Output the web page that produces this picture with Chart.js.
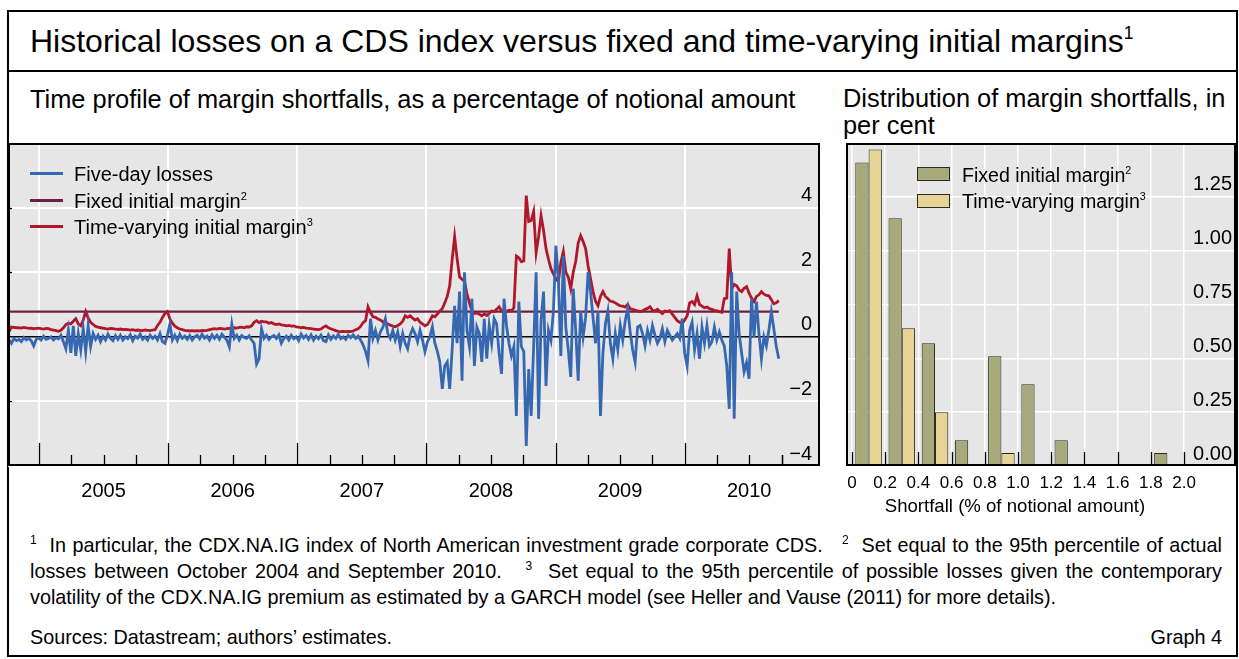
<!DOCTYPE html>
<html><head><meta charset="utf-8"><title>Graph 4</title>
<script src="https://cdn.jsdelivr.net/npm/chart.js@4.4.1/dist/chart.umd.min.js"></script>
<style>
html,body{margin:0;padding:0;background:#fff}
body{position:relative;width:1239px;height:659px;overflow:hidden;font-family:"Liberation Sans",Arial,Helvetica,sans-serif;color:#000}
.a{position:absolute;white-space:nowrap}
.sup{font-size:0.55em;position:relative;top:-0.75em}
.fn{position:absolute;left:30px;width:1192px;font-size:19.8px;line-height:26px;white-space:nowrap}
.just{text-align:justify;text-align-last:justify;white-space:normal}
.fs{font-size:12px;position:relative;top:-8px}
canvas{display:block}
</style></head><body>
<div class="a" style="left:7px;top:10px;width:1227px;height:643px;border:2px solid #000"></div>
<div class="a" style="left:7px;top:70px;width:1231px;height:2px;background:#000"></div>
<div class="a" style="left:30px;top:21px;font-size:32px;line-height:40px">Historical losses on a CDS index versus fixed and time-varying initial margins<span class="sup">1</span></div>
<div class="a" style="left:30px;top:85px;font-size:25.4px;line-height:28px">Time profile of margin shortfalls, as a percentage of notional amount</div>
<div class="a" style="left:843px;top:85px;font-size:25.4px;line-height:27px">Distribution of margin shortfalls, in<br>per cent</div>

<div class="a" style="left:8px;top:143px;width:812px;height:367px"><canvas id="c1" width="812" height="367"></canvas></div>
<div class="a" style="left:846px;top:143px;width:390px;height:353px"><canvas id="c2" width="390" height="353"></canvas></div>

<!-- left legend -->
<div class="a" style="left:30px;top:172px;width:33px;height:3px;background:#3668b2"></div>
<div class="a" style="left:74px;top:162px;font-size:20px;line-height:24px">Five-day losses</div>
<div class="a" style="left:30px;top:199px;width:33px;height:3px;background:#6d2046"></div>
<div class="a" style="left:74px;top:189px;font-size:20px;line-height:24px">Fixed initial margin<span class="sup">2</span></div>
<div class="a" style="left:30px;top:225px;width:33px;height:3px;background:#b0172b"></div>
<div class="a" style="left:74px;top:215px;font-size:20px;line-height:24px">Time-varying initial margin<span class="sup">3</span></div>

<!-- right legend -->
<div class="a" style="left:917px;top:167px;width:31px;height:12px;background:#a7a87b;border:1px solid #2b2b22"></div>
<div class="a" style="left:962px;top:163px;font-size:19.6px;line-height:24px">Fixed initial margin<span class="sup">2</span></div>
<div class="a" style="left:917px;top:194px;width:31px;height:12px;background:#e8d396;border:1px solid #2b2b22"></div>
<div class="a" style="left:962px;top:189px;font-size:19.6px;line-height:24px">Time-varying margin<span class="sup">3</span></div>
<div class="a" style="left:865px;top:494px;width:300px;text-align:center;font-size:18.6px;line-height:24px">Shortfall (% of notional amount)</div>

<div class="fn just" style="top:532px"><span class="fs">1</span>&nbsp; In particular, the CDX.NA.IG index of North American investment grade corporate CDS. &nbsp; <span class="fs">2</span>&nbsp; Set equal to the 95th percentile of actual</div>
<div class="fn just" style="top:558px">losses between October 2004 and September 2010. &nbsp; <span class="fs">3</span>&nbsp; Set equal to the 95th percentile of possible losses given the contemporary</div>
<div class="fn" style="top:584px">volatility of the CDX.NA.IG premium as estimated by a GARCH model (see Heller and Vause (2011) for more details).</div>
<div class="fn" style="top:624px">Sources: Datastream; authors’ estimates.</div>
<div class="a" style="right:17px;top:624px;font-size:19.8px;line-height:26px">Graph 4</div>

<script>
// ---------------- data ----------------
const firstWeek = "2004-10-08";           // first weekly observation
const yearLabels = [2005, 2006, 2007, 2008, 2009, 2010];
const fixedMargin = 0.78;                  // fixed initial margin, % of notional
const fiveDayLosses = [
 -0.10,-0.20,-0.05,-0.12,-0.08,-0.15,-0.02,-0.10,
 -0.05,-0.12,-0.28,-0.08,-0.04,-0.10,0.02,-0.08,
 -0.05,0.00,-0.10,-0.03,-0.06,0.05,-0.15,-0.37,
 0.20,-0.50,0.34,-0.59,0.10,-0.40,0.25,-0.46,
 0.34,-0.30,0.10,-0.08,0.05,-0.15,0.02,-0.10,
 0.08,-0.05,-0.12,0.04,-0.08,0.05,-0.10,0.00,
 -0.06,0.06,-0.12,0.02,-0.04,0.08,-0.08,0.00,
 -0.10,0.05,-0.05,0.02,-0.10,0.10,-0.15,-0.20,
 0.05,0.40,-0.10,0.05,-0.12,0.08,-0.05,0.02,
 -0.08,0.04,-0.10,0.00,0.05,-0.06,0.08,-0.04,
 0.02,-0.10,0.06,-0.05,0.05,-0.08,0.08,-0.02,
 -0.10,-0.31,0.40,-0.05,0.05,-0.10,0.04,-0.02,
 -0.05,0.03,-0.10,-0.20,-0.84,-0.68,0.25,-0.05,
 0.05,-0.08,0.00,0.04,-0.05,0.06,-0.20,-0.05,
 0.02,-0.10,0.05,-0.06,0.00,-0.12,0.08,-0.04,
 0.04,-0.08,0.06,-0.10,0.02,-0.06,0.05,-0.12,
 -0.15,0.06,-0.08,0.03,-0.05,0.08,-0.06,0.00,
 -0.08,0.05,-0.03,0.06,-0.05,0.02,-0.10,-0.25,
 -0.45,-0.74,0.56,-0.05,0.20,-0.10,0.15,0.30,
 0.56,0.10,-0.05,0.20,-0.10,0.15,-0.30,0.10,
 -0.20,-0.37,0.05,0.25,0.10,-0.15,0.20,-0.10,
 -0.46,-0.15,0.00,0.31,-0.20,-0.45,-0.78,-1.61,
 -0.90,-0.78,-1.61,-0.40,0.96,-0.20,1.40,-1.36,
 2.00,0.20,-0.30,1.18,-0.90,0.30,0.10,-0.78,
 0.56,-0.68,0.35,-0.20,0.56,0.40,-0.50,-1.15,
 1.18,0.35,-0.20,-0.59,-0.30,-2.45,1.09,-0.30,
 -0.46,-3.38,-1.00,-2.45,-0.30,2.00,-2.54,0.50,
 1.40,-1.52,0.20,-0.10,0.80,2.82,1.80,-0.59,
 2.50,0.30,-0.40,-1.24,1.49,0.20,-1.36,0.80,
 0.00,0.60,2.00,1.40,0.60,-0.20,0.80,-2.45,
 -0.50,0.40,0.80,-0.20,-0.68,0.10,-0.40,0.35,
 -0.10,0.50,0.87,0.15,-0.40,-0.78,0.30,0.35,
 0.10,-0.28,0.20,-0.10,0.35,0.05,-0.20,-0.05,
 0.25,-0.15,0.20,0.05,-0.10,0.00,0.10,-0.05,
 0.56,-0.50,-0.90,0.20,0.45,-0.40,0.10,-0.68,
 0.30,-0.20,0.35,-0.28,-0.15,0.30,-0.10,0.15,
 -0.10,-0.28,-0.90,-2.23,2.00,-2.54,1.40,0.10,
 -0.50,-1.08,-0.80,-1.30,1.18,0.00,1.09,0.10,
 -0.68,0.00,-0.28,0.20,0.78,0.25,-0.30,-0.68
];
const timeVaryingMargin = [
 0.16,0.30,0.29,0.28,0.28,0.27,0.29,0.28,
 0.26,0.27,0.25,0.26,0.27,0.25,0.24,0.26,
 0.25,0.22,0.21,0.19,0.17,0.20,0.28,0.38,
 0.42,0.40,0.48,0.56,0.40,0.34,0.52,0.78,
 0.58,0.45,0.38,0.32,0.30,0.28,0.27,0.25,
 0.24,0.26,0.25,0.24,0.23,0.24,0.22,0.23,
 0.22,0.21,0.22,0.20,0.21,0.20,0.19,0.21,
 0.20,0.19,0.21,0.22,0.35,0.45,0.60,0.72,
 0.78,0.55,0.42,0.33,0.28,0.24,0.22,0.20,
 0.19,0.18,0.19,0.18,0.19,0.18,0.20,0.19,
 0.20,0.22,0.24,0.25,0.24,0.26,0.25,0.24,
 0.25,0.26,0.27,0.28,0.27,0.29,0.30,0.28,
 0.31,0.30,0.34,0.45,0.50,0.44,0.48,0.46,
 0.46,0.42,0.44,0.40,0.38,0.40,0.37,0.36,
 0.34,0.35,0.33,0.34,0.31,0.30,0.28,0.29,
 0.27,0.26,0.25,0.24,0.23,0.22,0.24,0.30,
 0.34,0.28,0.25,0.22,0.19,0.17,0.16,0.17,
 0.16,0.17,0.16,0.18,0.22,0.25,0.32,0.44,
 0.50,0.93,0.75,0.62,0.60,0.55,0.52,0.46,
 0.44,0.40,0.36,0.33,0.31,0.35,0.40,0.48,
 0.65,0.60,0.65,0.58,0.52,0.56,0.45,0.40,
 0.34,0.38,0.50,0.65,0.62,0.70,0.80,0.87,
 1.05,1.25,1.58,2.40,3.10,2.42,1.85,1.78,
 1.71,1.33,1.05,0.80,0.72,0.74,0.70,0.65,
 0.71,0.66,0.72,0.80,0.78,0.85,0.93,0.80,
 0.75,0.78,0.82,0.80,0.90,2.50,2.45,2.33,
 2.35,4.37,3.57,3.60,3.88,2.60,3.10,3.75,
 3.30,2.73,2.40,2.11,1.95,1.80,1.71,2.30,
 2.64,2.00,1.85,1.49,2.00,2.33,2.90,3.13,
 2.95,2.73,2.20,1.80,1.40,1.10,0.96,1.25,
 1.40,1.25,1.18,1.10,1.09,1.05,1.00,0.96,
 0.95,0.92,1.00,0.87,0.85,0.83,0.80,0.78,
 0.80,0.85,0.88,0.93,0.82,0.80,0.85,0.78,
 0.72,0.80,0.78,0.81,0.70,0.60,0.50,0.45,
 0.40,0.52,0.65,1.05,1.09,1.00,1.27,1.00,
 0.95,0.90,0.92,0.87,0.85,0.82,0.80,0.78,
 0.76,1.18,1.20,2.73,1.49,1.62,1.58,1.45,
 1.40,1.50,1.55,1.35,1.20,1.09,1.25,1.30,
 1.40,1.32,1.28,1.27,1.15,1.02,1.05,1.12
];
const yTicksLeft = [-4, -2, 0, 2, 4];

const binCentres = [0.1, 0.3, 0.5, 0.7, 0.9, 1.1, 1.3, 1.5, 1.7, 1.9];
const binEdges = [0, 0.2, 0.4, 0.6, 0.8, 1.0, 1.2, 1.4, 1.6, 1.8, 2.0];
const fixedShortfall = [1.41, 1.15, 0.57, 0.12, 0.51, 0.38, 0.12, null, null, 0.06];
const timeVaryingShortfall = [1.47, 0.64, 0.25, null, 0.06, null, null, null, null, null];
const yTicksRight = [0, 0.25, 0.5, 0.75, 1.0, 1.25];

// ---------------- helpers ----------------
function decYear(d) {
  const y = d.getUTCFullYear();
  const s = Date.UTC(y, 0, 1), e = Date.UTC(y + 1, 0, 1);
  return y + (d.getTime() - s) / (e - s);
}
const t0 = new Date(firstWeek + "T00:00:00Z");
const weekX = fiveDayLosses.map((_, i) => decYear(new Date(t0.getTime() + i * 7 * 86400000)));
const quarterTicks = [];
yearLabels.forEach(y => { [0, 0.25, 0.5, 0.75].forEach(q => quarterTicks.push(y + q)); });

Chart.defaults.font.family = '"Liberation Sans", Arial, sans-serif';
Chart.defaults.color = '#000';

function noPad(s) { s.paddingLeft = 0; s.paddingRight = 0; s.paddingTop = 0; s.paddingBottom = 0; }

const BG = '#e6e6e6';
const panel = {
  id: 'panel',
  beforeDraw(chart) {
    const { ctx, chartArea: a } = chart;
    ctx.save(); ctx.fillStyle = BG;
    ctx.fillRect(a.left, a.top, a.right - a.left, a.bottom - a.top);
    ctx.restore();
  },
  afterDraw(chart, args, opts) {
    const { ctx, chartArea: a } = chart;
    const xs = chart.scales.x, ys = chart.scales.y;
    ctx.save();
    ctx.strokeStyle = '#000'; ctx.lineWidth = 1.3;
    opts.ticks.forEach(t => {
      const px = Math.round(xs.getPixelForValue(t.v)) + 0.5;
      if (px < a.left || px > a.right) return;
      ctx.beginPath(); ctx.moveTo(px, a.bottom); ctx.lineTo(px, a.bottom - t.len); ctx.stroke();
    });
    (opts.yTicks || []).forEach(v => {
      const py = Math.round(ys.getPixelForValue(v)) + 0.5;
      ctx.beginPath(); ctx.moveTo(a.left, py); ctx.lineTo(a.left + 4, py); ctx.stroke();
    });
    ctx.lineWidth = 2;
    ctx.strokeRect(a.left + 1, a.top + 1, a.right - a.left - 2, a.bottom - a.top - 2);
    ctx.restore();
  }
};

// ---------------- left chart ----------------
new Chart(document.getElementById('c1'), {
  type: 'line',
  data: {
    datasets: [
      { label: 'Five-day losses', data: weekX.map((x, i) => ({ x, y: fiveDayLosses[i] })),
        borderColor: '#3668b2', borderWidth: 2.8, pointRadius: 0, tension: 0 },
      { label: 'Time-varying initial margin', data: weekX.map((x, i) => ({ x, y: timeVaryingMargin[i] })),
        borderColor: '#b0172b', borderWidth: 2.8, pointRadius: 0, tension: 0 },
      { label: 'Fixed initial margin', data: [{ x: weekX[0], y: fixedMargin }, { x: weekX[weekX.length - 1], y: fixedMargin }],
        borderColor: '#6d2046', borderWidth: 2.2, pointRadius: 0 }
    ]
  },
  options: {
    responsive: false, animation: false, devicePixelRatio: 1,
    layout: { padding: 0 },
    plugins: {
      legend: { display: false }, tooltip: { enabled: false },
      panel: { ticks: quarterTicks.concat([2010.75]).map(v => ({ v, len: Number.isInteger(v) ? 23 : 11 })),
               yTicks: [-2, 2, 4] }
    },
    scales: {
      x: {
        type: 'linear', min: 2004.76, max: 2011.048,
        afterBuildTicks: s => { s.ticks = quarterTicks.map(v => ({ value: v })); },
        afterFit: s => { s.height = 44; noPad(s); },
        grid: { drawTicks: false, lineWidth: 2, color: c => (c.tick && Number.isInteger(c.tick.value)) ? '#ffffff' : 'rgba(0,0,0,0)' },
        border: { display: false },
        ticks: { autoSkip: false, maxRotation: 0, padding: 13, font: { size: 20 },
          callback: v => (Math.abs(v - Math.floor(v) - 0.5) < 1e-6) ? String(Math.floor(v)) : '' }
      },
      y: {
        position: 'right', min: -4, max: 6,
        afterBuildTicks: s => { s.ticks = yTicksLeft.concat([6]).map(v => ({ value: v })); },
        afterFit: s => { s.width = 0; noPad(s); },
        grid: { drawTicks: false, lineWidth: c => (c.tick && c.tick.value === 0) ? 1.4 : 2,
          color: c => (c.tick && c.tick.value === 0) ? '#000' : '#ffffff' },
        border: { display: false },
        ticks: { mirror: true, padding: -8, labelOffset: -12, font: { size: 20 },
          callback: v => v >= 6 ? '' : (v < 0 ? '\u2212' + Math.abs(v) : String(v)) }
      }
    }
  },
  plugins: [panel]
});

// ---------------- right chart ----------------
new Chart(document.getElementById('c2'), {
  type: 'bar',
  data: {
    datasets: [
      { label: 'Fixed initial margin', data: binCentres.map((x, i) => ({ x, y: fixedShortfall[i] })),
        backgroundColor: '#a7a87b', borderColor: '#2b2b22', borderWidth: 1, borderSkipped: false },
      { label: 'Time-varying margin', data: binCentres.map((x, i) => ({ x, y: timeVaryingShortfall[i] })),
        backgroundColor: '#e8d396', borderColor: '#2b2b22', borderWidth: 1, borderSkipped: false }
    ]
  },
  options: {
    responsive: false, animation: false, devicePixelRatio: 1,
    layout: { padding: 0 },
    datasets: { bar: { categoryPercentage: 0.8, barPercentage: 1.0 } },
    plugins: {
      legend: { display: false }, tooltip: { enabled: false },
      panel: { ticks: binEdges.map(v => ({ v, len: 14 })) }
    },
    scales: {
      x: {
        type: 'linear', min: -0.036, max: 2.313, offset: false,
        afterBuildTicks: s => { s.ticks = binEdges.map(v => ({ value: v })); },
        afterFit: s => { s.height = 30; noPad(s); },
        grid: { drawTicks: false, lineWidth: 1.5, color: '#ffffff', offset: false },
        border: { display: false },
        ticks: { autoSkip: false, maxRotation: 0, padding: 7, font: { size: 17 },
          callback: v => v === 0 ? '0' : v.toFixed(1) }
      },
      y: {
        position: 'right', min: 0, max: 1.5,
        afterBuildTicks: s => { s.ticks = yTicksRight.concat([1.5]).map(v => ({ value: v })); },
        afterFit: s => { s.width = 0; noPad(s); },
        grid: { drawTicks: false, lineWidth: 1.5, color: '#ffffff' },
        border: { display: false },
        ticks: { mirror: true, padding: -4, labelOffset: -12, font: { size: 20 },
          callback: v => v >= 1.5 ? '' : v.toFixed(2) }
      }
    }
  },
  plugins: [panel]
});
</script>
</body></html>
